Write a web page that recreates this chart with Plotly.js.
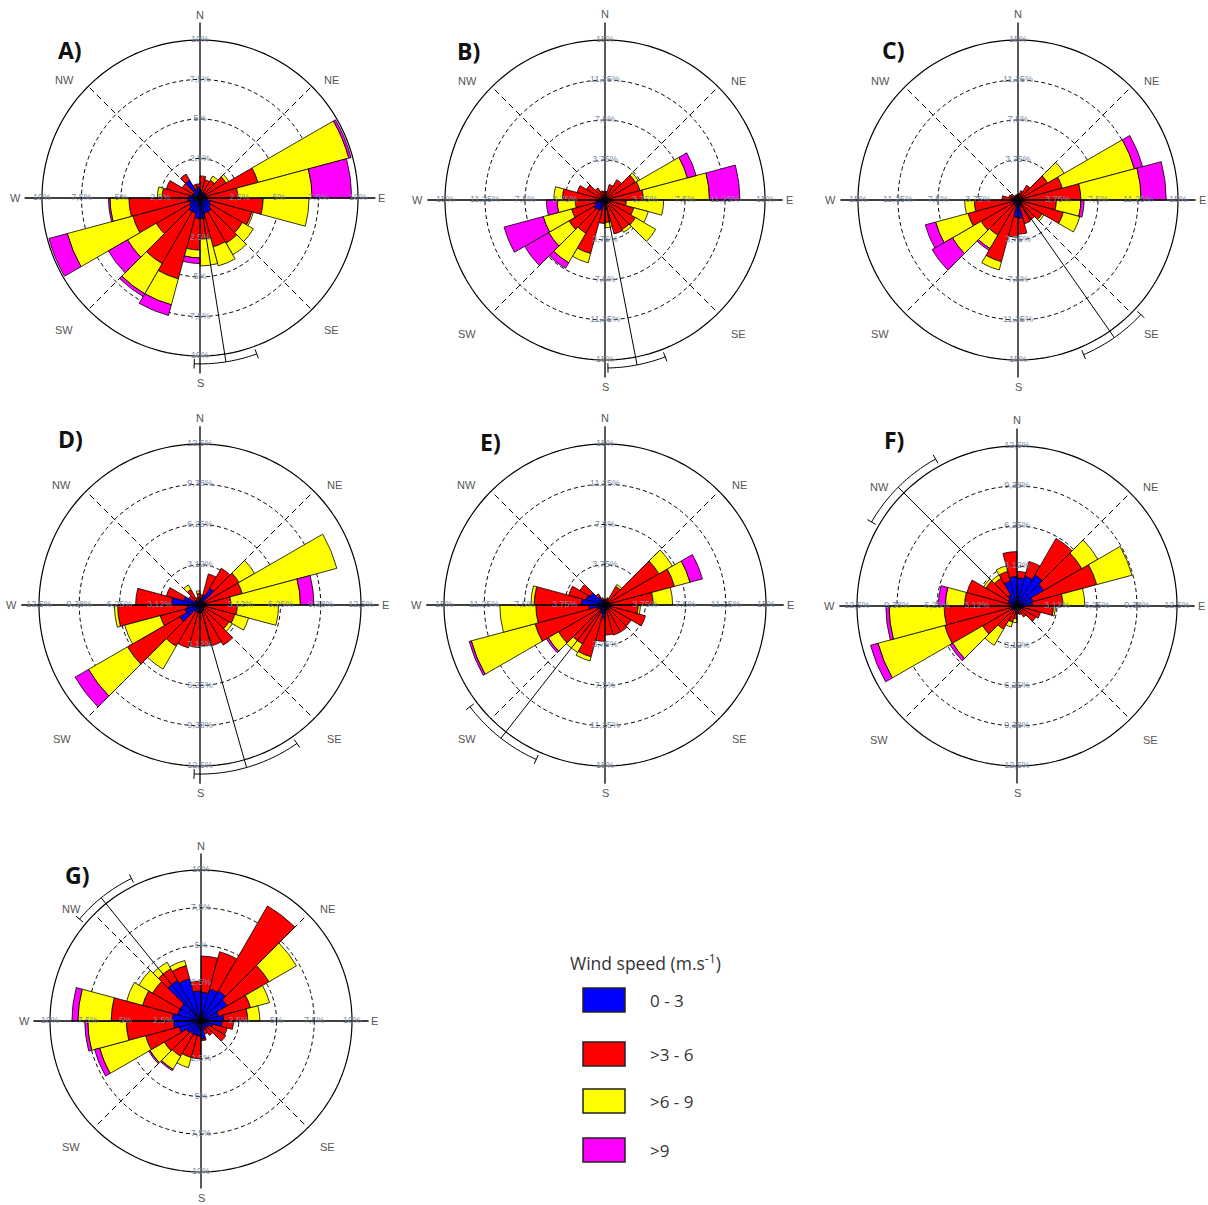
<!DOCTYPE html>
<html><head><meta charset="utf-8">
<script src="https://cdn.plot.ly/plotly-3.0.1.min.js"></script>
<style>html,body{margin:0;padding:0;background:#fff}#chart{width:1208px;height:1205px}</style>
</head><body><div id="chart"></div>
<script>
const W = 1208, H = 1205;

// direction bins (bearing of bin centre, degrees, 15-degree sectors)
const directions = [7.5,22.5,37.5,52.5,67.5,82.5,97.5,112.5,127.5,142.5,157.5,172.5,187.5,202.5,217.5,232.5,247.5,262.5,277.5,292.5,307.5,322.5,337.5,352.5];
const speedClasses = ['0 - 3', '>3 - 6', '>6 - 9', '>9'];
const classColors = ['#0000ff', '#ff0000', '#ffff00', '#ff00ff'];
const panelLabels = ['A)', 'B)', 'C)', 'D)', 'E)', 'F)', 'G)'];
const panelMax = [10, 15, 15, 12.5, 15, 12.5, 10];
const ringLabels = [
  ['2,5%', '5%', '7,5%', '10%'],
  ['3,75%', '7,5%', '11,25%', '15%'],
  ['3,75%', '7,5%', '11,25%', '15%'],
  ['3,12%', '6,25%', '9,38%', '12,5%'],
  ['3,75%', '7,5%', '11,25%', '15%'],
  ['3,12%', '6,25%', '9,38%', '12,5%'],
  ['2,5%', '5%', '7,5%', '10%']
];
const compassNames = ['N', 'NE', 'E', 'SE', 'S', 'SW', 'W', 'NW'];
// mean wind direction and its confidence arc (degrees)
const meanDir = [171, 169, 145, 164, 218, 315, 321];
const ciLow   = [160, 159, 133, 145, 204, 300, 310];
const ciHigh  = [182, 179, 157, 182, 233, 331, 334];

// frequencies (%) per direction bin, per speed class
const aBlue    = [0.5,0.4,0.4,0.4,0.4,0.4,0.5,0.7,0.8,1.0,1.0,1.3,1.3,1.0,1.0,0.8,0.7,0.8,0.7,0.5,0.5,1.3,0.6,0.7];
const aRed     = [0.9,0.8,0.9,1.5,3.4,2.0,3.5,2.7,2.3,2.3,2.2,1.3,2.0,4.3,3.8,2.4,3.7,3.7,1.7,1.7,0.8,0.45,0.3,0.2];
const aYellow  = [0,0,0.3,0.2,5.95,4.7,2.9,0.1,0.8,0.85,1.25,1.7,0.5,1.7,2.2,2.1,4.3,1.2,0.3,0,0,0,0,0];
const aMagenta = [0,0,0,0,0.15,2.5,0,0,0,0,0,0,0.35,0.7,0.2,1.4,1.2,0.1,0,0,0,0,0,0];

const bBlue    = [0.3,0.3,0.3,0.3,0.4,0.4,0.3,0.3,0.3,0.3,0.3,0.3,0.4,1.0,1.1,1.2,1.0,0.8,0.3,0.3,0.3,0.3,0.3,0.3];
const bRed     = [0.5,1.2,1.9,3.0,3.0,3.2,1.7,2.5,3.0,2.9,3.0,1.8,1.8,4.2,2.5,2.7,2.25,2.0,3.7,2.4,1.7,1.0,0.6,0.5];
const bYellow  = [0,0,0,0.3,4.6,6.2,3.5,1.4,2.2,0.3,0,0.5,0,0.9,3.2,2.2,2.75,1.7,0.8,0,0,0,0,0];
const bMagenta = [0,0,0,0,0.85,2.85,0,0,0,0,0,0,0,0,0.6,2.6,3.8,1.0,0,0,0,0,0,0];

const cBlue    = [0.3,0.3,0.4,0.4,0.4,0.4,0.4,0.4,0.4,0.4,0.6,1.7,1.6,0.6,0.5,0.5,0.5,0.4,0.5,0.4,0.5,0.3,0.3,0.3];
const cRed     = [0.3,0.6,1.2,2.8,3.9,5.5,3.2,4.0,2.2,1.8,1.7,1.5,1.9,5.4,3.3,3.5,4.35,3.7,1.0,0.5,0.3,0.2,0.2,0.2];
const cYellow  = [0,0,0,1.8,7.0,5.65,2.3,1.6,0.2,0,0,0,0,0.8,1.45,3.1,3.15,0.9,0,0,0,0,0,0];
const cMagenta = [0,0,0,0,0.8,2.35,0.3,0,0,0,0,0,0,0,0.2,2.2,1.0,0,0,0,0,0,0,0];

const dBlue    = [0.5,0.8,1.5,0.4,0.5,0.4,0.4,0.4,0.4,0.5,0.5,0.6,0.6,0.6,0.6,1.8,1.2,1.0,2.2,1.3,0.5,0.5,0.3,0.4];
const dRed     = [0.3,1.7,1.8,3.1,2.9,2.0,2.5,2.4,2.2,3.1,2.8,2.6,2.7,2.85,3.1,4.7,2.0,5.4,2.8,1.4,0.5,0.9,0.3,0.5];
const dYellow  = [0,0,0,1.4,7.6,5.4,3.2,1.1,0.3,0,0,0,0,0,2.05,3.5,2.85,0.25,0,0,0,0.4,0,0.2];
const dMagenta = [0,0,0,0,0,1.05,0,0,0,0,0,0,0,0,0,1.2,0,0,0,0,0,0,0,0];

const eBlue    = [0.3,0.3,0.3,0.4,0.4,0.4,0.5,0.5,0.5,0.5,0.5,0.5,1.2,0.8,0.6,0.6,0.8,1.5,2.2,1.8,1.6,0.9,0.5,0.4];
const eRed     = [0.2,0.4,1.7,5.4,6.3,4.1,2.6,3.4,2.3,2.4,2.4,2.3,2.2,4.2,3.6,4.4,5.95,4.95,4.4,1.7,1.1,0.3,0.2,0.1];
const eYellow  = [0,0,0.2,1.45,1.5,1.8,0.2,0,0,0,0,0,0,0.4,0.9,1.1,6.15,3.35,0.3,0,0,0,0,0];
const eMagenta = [0,0,0,0,1.2,0,0,0,0,0,0,0,0,0,0,0.2,0.2,0,0,0,0,0,0,0];

const fBlue    = [2.2,2.4,2.8,2.4,1.3,1.2,0.5,0.5,0.4,0.3,0.3,0.3,0.3,0.3,0.4,0.5,0.5,0.5,0.5,0.7,0.8,1.0,2.0,2.3];
const fRed     = [0.5,1.2,3.3,3.45,5.15,2.4,2.35,1.4,1.3,0.7,0.4,0.3,0.7,1.0,1.7,2.6,5.35,5.2,3.6,3.35,2.0,1.5,0.8,1.95];
const fYellow  = [0,0,0,1.45,2.85,1.7,0.15,0,0,0,0,0,0.3,0.4,1.45,2.7,5.4,4.3,1.5,0,0.2,0.3,0.45,0];
const fMagenta = [0,0,0,0,0,0,0,0,0,0,0,0,0,0,0,0.25,0.6,0.25,0.55,0,0,0,0,0];

const gBlue    = [1.9,2.2,2.3,2.0,1.2,1.5,1.4,0.8,0.6,0.5,0.6,1.2,1.0,1.0,1.0,1.1,1.5,1.8,1.9,1.6,1.6,3.1,2.9,2.0];
const gRed     = [2.4,2.55,6.5,3.2,2.2,1.6,0.75,1.0,1.3,0.6,0.3,0.1,1.5,1.5,1.7,1.7,2.3,3.15,4.05,2.4,2.1,0.9,0.9,0.65];
const gYellow  = [0,0,0,2.1,1.3,0.8,0,0,0,0,0,0,0,0.7,1.0,1.1,3.15,2.55,2.2,1.1,1.05,0.5,0.35,0];
const gMagenta = [0,0,0,0,0,0,0,0,0,0,0,0,0,0,0.1,0.1,0.35,0.2,0.4,0,0,0,0,0];

const panelData = [
  [aBlue, aRed, aYellow, aMagenta],
  [bBlue, bRed, bYellow, bMagenta],
  [cBlue, cRed, cYellow, cMagenta],
  [dBlue, dRed, dYellow, dMagenta],
  [eBlue, eRed, eYellow, eMagenta],
  [fBlue, fRed, fYellow, fMagenta],
  [gBlue, gRed, gYellow, gMagenta]
];

// layout geometry (pixels): centre and radius of each rose, and panel-letter position
const centerX = [200, 605, 1018, 200, 605, 1017, 201];
const centerY = [198, 200, 200, 605, 605, 606, 1021];
const radiusPx = [158, 160, 160, 161, 161, 160, 151];
const letterX = [70, 468, 893, 70, 490, 894, 77];
const letterY = [50, 51, 50, 439, 442, 440, 875];
// compass label offsets in units of the rose radius (dx right, dy down)
const compassDX = [0, 0.835, 1.15, 0.835, 0, -0.86, -1.17, -0.86];
const compassDY = [-1.16, -0.745, 0, 0.835, 1.17, 0.835, 0, -0.745];
const EXT = 1.12; // polar range extension so lines can pass beyond the outer circle

const traces = [];
const layout = {
  width: W, height: H,
  margin: {l: 0, r: 0, t: 0, b: 0},
  paper_bgcolor: '#fff',
  showlegend: false,
  font: {family: 'Liberation Sans, Arial, sans-serif'},
  annotations: [],
  shapes: []
};

const circleTheta = [];
for (let t = 0; t <= 360; t += 2) circleTheta.push(t);

for (let i = 0; i < 7; i++) {
  const key = i === 0 ? 'polar' : 'polar' + (i + 1);
  const m = panelMax[i];
  const cx = centerX[i], cy = centerY[i], R = radiusPx[i] * EXT;
  layout[key] = {
    domain: {x: [(cx - R) / W, (cx + R) / W], y: [1 - (cy + R) / H, 1 - (cy - R) / H]},
    bgcolor: 'rgba(0,0,0,0)',
    bargap: 0,
    barmode: 'stack',
    radialaxis: {range: [0, EXT * m], tickvals: [m / 4, m / 2, 3 * m / 4], showticklabels: false, ticks: '',
      showline: false, showgrid: true, gridcolor: '#000', gridwidth: 1, griddash: '4px,3px', layer: 'below traces'},
    angularaxis: {direction: 'clockwise', rotation: 90, showticklabels: false, ticks: '',
      showgrid: false, showline: false, layer: 'below traces'}
  };

  // outer solid circle
  traces.push({type: 'scatterpolar', subplot: key, mode: 'lines', hoverinfo: 'skip',
    r: circleTheta.map(() => m), theta: circleTheta, line: {color: '#000', width: 1.2}});

  // dashed diagonals
  traces.push({type: 'scatterpolar', subplot: key, mode: 'lines', hoverinfo: 'skip',
    r: [0, m, null, 0, m, null, 0, m, null, 0, m], theta: [45, 45, null, 135, 135, null, 225, 225, null, 315, 315],
    line: {color: '#000', width: 1, dash: '6px,4px'}});

  // N-S and E-W axis cross
  const e = 1.11 * m;
  traces.push({type: 'scatterpolar', subplot: key, mode: 'lines', hoverinfo: 'skip',
    r: [e, 0, e, null, e, 0, e], theta: [0, 0, 180, null, 90, 90, 270],
    line: {color: '#000', width: 1.3}});

  // mean direction line with confidence arc
  const ra = 1.05 * m;
  const ir = [0, ra, null], it = [meanDir[i], meanDir[i], null];
  ir.push(1.02 * m, 1.08 * m, null); it.push(ciLow[i], ciLow[i], null);
  for (let t = ciLow[i]; t <= ciHigh[i]; t += 1) { ir.push(ra); it.push(t); }
  ir.push(null, 1.02 * m, 1.08 * m); it.push(null, ciHigh[i], ciHigh[i]);
  traces.push({type: 'scatterpolar', subplot: key, mode: 'lines', hoverinfo: 'skip',
    r: ir, theta: it, line: {color: '#000', width: 1}});

  // stacked speed-class bars
  for (let k = 0; k < 4; k++) {
    traces.push({type: 'barpolar', subplot: key, name: speedClasses[k], hoverinfo: 'skip',
      r: panelData[i][k], theta: directions, width: 15,
      marker: {color: classColors[k], line: {color: '#000', width: 0.8}}});
  }

  // ring labels along the four cardinal axes
  const lr = [], lt = [], ltx = [];
  [0, 90, 180, 270].forEach(th => {
    for (let q = 0; q < 4; q++) { lr.push(m * (q + 1) / 4); lt.push(th); ltx.push(ringLabels[i][q]); }
  });
  traces.push({type: 'scatterpolar', subplot: key, mode: 'text', hoverinfo: 'skip',
    r: lr, theta: lt, text: ltx, textposition: 'middle center',
    textfont: {size: 9, color: '#7a8aa0', family: 'Liberation Sans, Arial, sans-serif'}});

  // compass labels
  for (let c = 0; c < 8; c++) {
    layout.annotations.push({text: compassNames[c], xref: 'paper', yref: 'paper',
      x: (centerX[i] + compassDX[c] * radiusPx[i]) / W, y: 1 - (centerY[i] + compassDY[c] * radiusPx[i]) / H,
      xanchor: 'center', yanchor: 'middle', showarrow: false,
      font: {size: 11, color: '#555', family: 'Liberation Sans, Arial, sans-serif'}});
  }

  layout.annotations.push({text: '<b>' + panelLabels[i] + '</b>', x: letterX[i] / W, y: 1 - letterY[i] / H,
    xref: 'paper', yref: 'paper', xanchor: 'center', yanchor: 'middle', showarrow: false,
    font: {size: 23, color: '#111', family: 'Open Sans, sans-serif'}});
}

// legend (drawn manually)
const legendBoxY = [988, 1042, 1089, 1138];
layout.annotations.push({text: 'Wind speed (m.s<sup>-1</sup>)', x: 645 / W, y: 1 - 962 / H, xref: 'paper', yref: 'paper',
  xanchor: 'center', yanchor: 'middle', showarrow: false, font: {size: 17.5, color: '#333', family: 'Open Sans, sans-serif'}});
for (let k = 0; k < 4; k++) {
  layout.shapes.push({type: 'rect', xref: 'paper', yref: 'paper', x0: 583 / W, x1: 625 / W,
    y0: 1 - legendBoxY[k] / H, y1: 1 - (legendBoxY[k] + 24) / H,
    fillcolor: classColors[k], line: {color: '#222', width: 1.5}});
  layout.annotations.push({text: speedClasses[k], x: 648 / W, y: 1 - (legendBoxY[k] + 12) / H, xref: 'paper', yref: 'paper',
    xanchor: 'left', yanchor: 'middle', showarrow: false, font: {size: 17, color: '#333', family: 'Open Sans, sans-serif'}});
}

Plotly.newPlot('chart', traces, layout, {staticPlot: true, displayModeBar: false});
</script></body></html>
